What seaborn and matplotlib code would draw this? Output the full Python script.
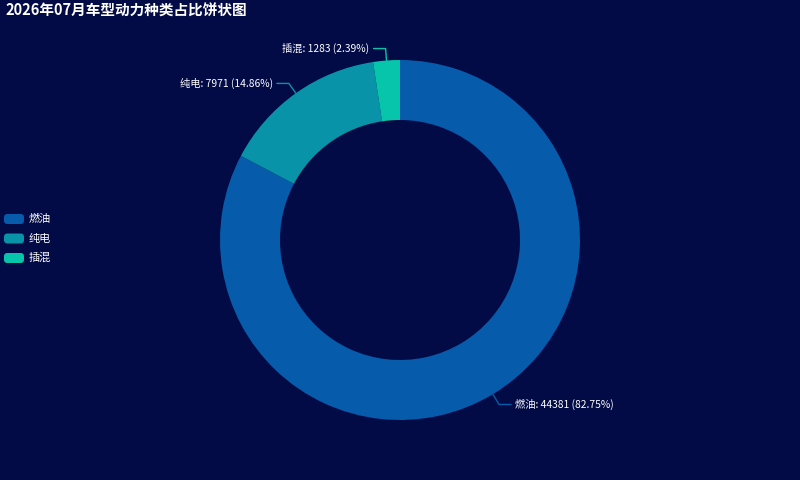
import numpy as np
import matplotlib
matplotlib.use("Agg")
import matplotlib.pyplot as plt
import seaborn as sns
from matplotlib.patches import FancyBboxPatch

# data
categories = ["燃油", "纯电", "插混"]
values = [44381, 7971, 1283]
colors = ["#065BAA", "#0893A8", "#07C5AB"]
title = "2026年07月车型动力种类占比饼状图"

bg = "#020B45"

sns.set_theme(style="dark", rc={"axes.facecolor": bg, "figure.facecolor": bg})
plt.rcParams['font.family'] = ['Noto Sans CJK SC', 'DejaVu Sans']

W, H = 800, 480
fig = plt.figure(figsize=(W / 100, H / 100), dpi=100)
ax = fig.add_axes([0, 0, 1, 1])

cx, cy = 400, 240
r_out, r_in = 180, 120
wedges, _ = ax.pie(values, colors=colors, startangle=90, counterclock=False,
                   radius=r_out, center=(cx, cy), frame=True,
                   wedgeprops=dict(width=r_out - r_in, linewidth=0))
ax.set_xlim(0, W)
ax.set_ylim(0, H)
ax.set_aspect("equal")
ax.axis("off")

total = sum(values)
for w, name, val, col in zip(wedges, categories, values, colors):
    ang = np.deg2rad((w.theta1 + w.theta2) / 2)
    x0, y0 = cx + r_out * np.cos(ang), cy + r_out * np.sin(ang)
    x1, y1 = cx + (r_out + 12) * np.cos(ang), cy + (r_out + 12) * np.sin(ang)
    side = 1 if np.cos(ang) >= 0 else -1
    x2 = x1 + side * 12
    ax.plot([x0, x1, x2], [y0, y1, y1], color=col, lw=1)
    ax.text(x2 + side * 4, y1, f"{name}: {val} ({val / total * 100:.2f}%)",
            color="white", fontsize=7.4, va="center",
            ha="left" if side > 0 else "right")

# title
fig.text(5 / W, 1 - 11 / H, title, color="white", fontsize=10.5, fontweight="bold",
         va="center", ha="left")

# legend
for i, (name, col) in enumerate(zip(categories, colors)):
    yc = H - (219 + i * 19.5)
    ax.add_patch(FancyBboxPatch((4, yc - 5), 20, 10, boxstyle="round,pad=0,rounding_size=3.5",
                                facecolor=col, edgecolor="none"))
    ax.text(29, yc, name, color="white", fontsize=8, va="center", ha="left")

fig.savefig("out.png", dpi=100, facecolor=bg)
